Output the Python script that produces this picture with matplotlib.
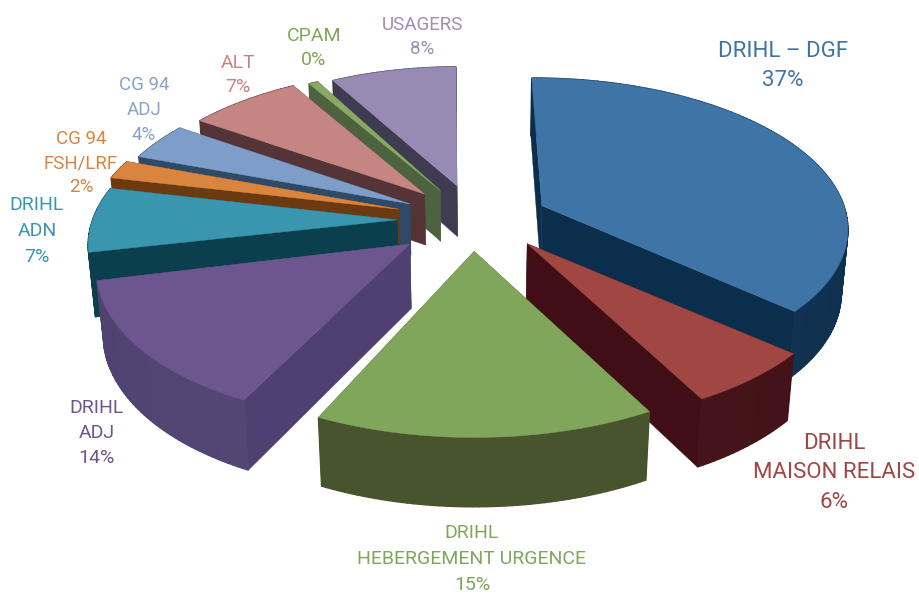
import numpy as np
import matplotlib
matplotlib.use('Agg')
import matplotlib.pyplot as plt
from matplotlib.colors import to_rgb
from matplotlib.patches import Polygon

# Data
labels = ['DRIHL – DGF', 'DRIHL\nMAISON RELAIS', 'DRIHL\nHEBERGEMENT URGENCE', 'DRIHL\nADJ',
          'DRIHL\nADN', 'CG 94\nFSH/LRF', 'CG 94\nADJ', 'ALT', 'CPAM', 'USAGERS']
shown = [37, 6, 15, 14, 7, 2, 4, 7, 0, 8]
values = [37, 6, 15, 14, 7, 2, 4, 7, 0.6, 8]

top_colors = ['#3F74A6', '#A04743', '#7FA65A', '#6D5590', '#3A96AE', '#D9853F', '#7F9DC9', '#C48583', '#8AA862', '#978BB3']
side_colors = ['#0C2E4D', '#400E14', '#424F27', '#4E4070', '#0B3F4D', '#6B3A10', '#2F4A66', '#553438', '#4D6340', '#3F3C52']
text_colors = ['#3F74A6', '#A04743', '#7FA65A', '#6D5590', '#3A96AE', '#D9853F', '#8AA2CC', '#C98480', '#7FA65A', '#9C8FB8']
label_x = [783, 834, 472, 97, 37, 81, 144, 238, 314, 422]
label_y = [66, 473, 559, 433, 231, 163, 110, 75, 48, 37]
font_sizes = [16, 16, 14, 14, 14, 13.5, 13.5, 14, 14, 13.5]
line_gaps = [31, 31, 27, 26.5, 27, 24, 25, 24, 24, 24]

# Per slice tuning
explode = [74, 70, 63, 80, 78, 80, 74, 75, 72, 75]
explode_turn = [0, 10, 0, 0, 0, 0, 0, 0, 0, 0]
heights = [74, 72, 72, 74, 74, 60, 60, 60, 60, 60]
radius_scale = [1.02, 1.02, 1.04, 1.01, 1.015, 1.03, 1.03, 1.01, 1.0, 0.98]
spin = [0.5, 2, 2.5, 1, 0, 0, 0, 0, 0, 0.7]

# Projection
cx, cy = 475, 220
R = 300
elev = np.radians(29)
D = 2000


def project(X, Y, Z):
    u = X
    v = Y * np.sin(elev) + Z * np.cos(elev)
    w = Y * np.cos(elev) - Z * np.sin(elev)
    s = D / (D + w)
    return cx + s * u, cy - s * v


fig = plt.figure(figsize=(9.2, 5.96), dpi=100)
ax = fig.add_axes([0, 0, 1, 1])
ax.set_xlim(0, 920)
ax.set_ylim(596, 0)
ax.axis('off')

# Slices go clockwise from 12 o'clock
fracs = np.array(values) / sum(values)
ends = np.pi / 2 - 2 * np.pi * np.cumsum(fracs)
starts = ends + 2 * np.pi * fracs
mids = (starts + ends) / 2
order = np.argsort(-np.sin(mids))

for i in order:
    h = heights[i]
    r = R * radius_scale[i]
    d = mids[i] + np.radians(explode_turn[i])
    ox, oy = explode[i] * np.cos(d), explode[i] * np.sin(d)
    a0, a1 = starts[i] + np.radians(spin[i]), ends[i] + np.radians(spin[i])
    t = np.linspace(a0, a1, max(int(np.degrees(a0 - a1)), 4))
    X = ox + r * np.cos(t)
    Y = oy + r * np.sin(t)
    side = np.array(to_rgb(side_colors[i]))
    # radial walls
    for a in [a0, a1]:
        xs = np.array([ox, ox + r * np.cos(a), ox + r * np.cos(a), ox])
        ys = np.array([oy, oy + r * np.sin(a), oy + r * np.sin(a), oy])
        zs = np.array([0, 0, -h, -h])
        px, py = project(xs, ys, zs)
        ax.add_patch(Polygon(np.c_[px, py], closed=True, fc=side, ec=side, lw=0.3))
    # outer wall, a bit lighter where it faces the viewer
    for j in range(len(t) - 1):
        xs = np.array([X[j], X[j + 1], X[j + 1], X[j]])
        ys = np.array([Y[j], Y[j + 1], Y[j + 1], Y[j]])
        zs = np.array([0, 0, -h, -h])
        px, py = project(xs, ys, zs)
        light = 0.03 * max(-np.sin(t[j]), 0)
        c = side + (1 - side) * light
        ax.add_patch(Polygon(np.c_[px, py], closed=True, fc=c, ec=c, lw=1.0))
    # top face
    px, py = project(np.r_[ox, X], np.r_[oy, Y], np.zeros(len(t) + 1))
    ax.add_patch(Polygon(np.c_[px, py], closed=True, fc=top_colors[i], ec=top_colors[i], lw=0.3))

for i in range(len(labels)):
    em = font_sizes[i] * 100 / 72
    ax.text(label_x[i], label_y[i], labels[i] + '\n' + str(shown[i]) + '%', color=text_colors[i],
            ha='center', va='center', fontsize=font_sizes[i], family='Roboto',
            linespacing=line_gaps[i] / em * 1.12)

fig.savefig('out.png', dpi=100)
